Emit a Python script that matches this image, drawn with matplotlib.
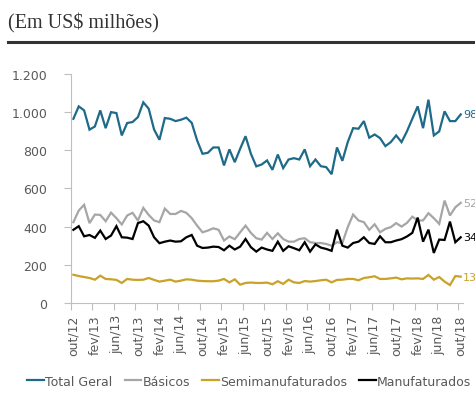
import matplotlib
matplotlib.use("Agg")
import matplotlib.pyplot as plt
from matplotlib.ticker import FuncFormatter, FixedLocator

months = ["jan", "fev", "mar", "abr", "mai", "jun", "jul", "ago", "set", "out", "nov", "dez"]
# monthly categories from out/12 to out/18
categories = []
for k in range(73):
    m = (9 + k) % 12
    y = 12 + (9 + k) // 12
    categories.append(f"{months[m]}/{y}")

total_geral = [964, 1029, 1008, 907, 924, 1008, 915, 999, 994, 877,
               942, 947, 973, 1050, 1017, 908, 854, 968, 964, 952,
               959, 970, 943, 851, 781, 786, 814, 814, 720, 804,
               737, 807, 873, 781, 715, 725, 746, 697, 777, 706,
               751, 758, 751, 804, 716, 751, 716, 711, 674, 814,
               744, 842, 915, 912, 952, 865, 882, 863, 821, 842,
               877, 842, 898, 964, 1029, 915, 1064, 877, 898, 1003,
               952, 952, 987]
basicos = [423, 484, 514, 418, 463, 461, 428, 473, 444, 411,
           458, 472, 432, 498, 461, 432, 423, 494, 466, 466,
           482, 472, 444, 405, 370, 379, 391, 383, 327, 348,
           334, 370, 405, 367, 339, 332, 367, 335, 365, 335,
           321, 321, 335, 339, 318, 314, 314, 309, 300, 318,
           314, 397, 463, 432, 423, 383, 412, 370, 388, 397,
           418, 400, 419, 452, 432, 432, 470, 444, 414, 536,
           458, 501, 524]
semimanufaturados = [148, 141, 136, 131, 122, 143, 126, 124, 121, 105,
                     126, 122, 121, 122, 131, 121, 112, 117, 122, 112,
                     117, 124, 122, 117, 115, 114, 114, 117, 126, 108,
                     124, 96, 105, 107, 105, 105, 107, 98, 114, 100,
                     122, 108, 105, 115, 112, 115, 119, 122, 108, 121,
                     122, 126, 126, 119, 131, 135, 140, 126, 126, 129,
                     133, 124, 129, 128, 129, 126, 147, 122, 136, 112,
                     94, 141, 138]
manufaturados = [383, 402, 349, 356, 341, 379, 335, 353, 402, 344,
                 342, 335, 418, 428, 405, 344, 313, 321, 327, 321,
                 323, 344, 356, 300, 288, 290, 295, 293, 276, 300,
                 280, 295, 335, 292, 269, 290, 280, 273, 321, 273,
                 297, 287, 276, 318, 269, 307, 290, 283, 273, 384,
                 300, 290, 314, 321, 344, 314, 309, 349, 318, 318,
                 327, 334, 348, 367, 447, 321, 384, 262, 332, 330,
                 426, 318, 344]
series_names = ["Total Geral", "Básicos", "Semimanufaturados", "Manufaturados"]
series_values = [total_geral, basicos, semimanufaturados, manufaturados]
# end labels as visible in the reference (cut at the image edge)
end_labels = ["98", "52", "13", "34"]
colors = ["#1D6A89", "#A6A6A6", "#C9A227", "#000000"]

fig = plt.figure(figsize=(4.75, 4.10), dpi=100)
ax = fig.add_axes([0.1488, 0.2585, 0.8268, 0.5593])

x = list(range(len(categories)))
for name, vals, c in zip(series_names, series_values, colors):
    ax.plot(x, vals, color=c, lw=1.6, label=name, solid_joinstyle="miter")

ax.set_xlim(-0.5, len(categories) - 0.5)
ax.set_ylim(0, 1200)
ax.set_yticks(range(0, 1201, 200))
ax.yaxis.set_major_formatter(FuncFormatter(lambda v, p: f"{int(v):,}".replace(",", ".")))

ax.xaxis.set_major_locator(FixedLocator(list(range(0, len(categories), 4))))
ax.set_xticklabels([categories[i] for i in range(0, len(categories), 4)], rotation=90)
ax.xaxis.set_minor_locator(FixedLocator([i - 0.5 for i in range(0, len(categories), 4)]))
ax.tick_params(axis="x", which="major", length=0, pad=8, labelsize=9, labelcolor="#595959")
ax.tick_params(axis="x", which="minor", length=5, color="#BFBFBF", width=0.8)
ax.tick_params(axis="y", length=5, color="#BFBFBF", width=0.8, labelsize=9, labelcolor="#595959", pad=12)

for s in ["top", "right"]:
    ax.spines[s].set_visible(False)
for s in ["left", "bottom"]:
    ax.spines[s].set_color("#BFBFBF")
    ax.spines[s].set_linewidth(0.8)

# end labels
for vals, c, lab in zip(series_values, colors, end_labels):
    ax.annotate(lab, xy=(x[-1], vals[-1]), xytext=(1.5, 0), textcoords="offset points",
                color=c, fontsize=8, va="center", ha="left", annotation_clip=False)

# title and rule
fig.text(0.017, 0.943, "(Em US$ milhões)", fontsize=14.5, family="Liberation Serif",
         color="#333333", va="center", ha="left")
fig.add_artist(plt.Line2D([0.017, 1.0], [0.894, 0.894], color="#333333", lw=2.2))

leg = fig.legend(loc="center", bbox_to_anchor=(0.525, 0.068), ncol=4, frameon=False,
                 fontsize=9, handlelength=1.35, handletextpad=0.1, columnspacing=0.95,
                 labelcolor="#595959")
for h in leg.legend_handles:
    h.set_linewidth(1.6)

fig.savefig("out.png", dpi=100)
